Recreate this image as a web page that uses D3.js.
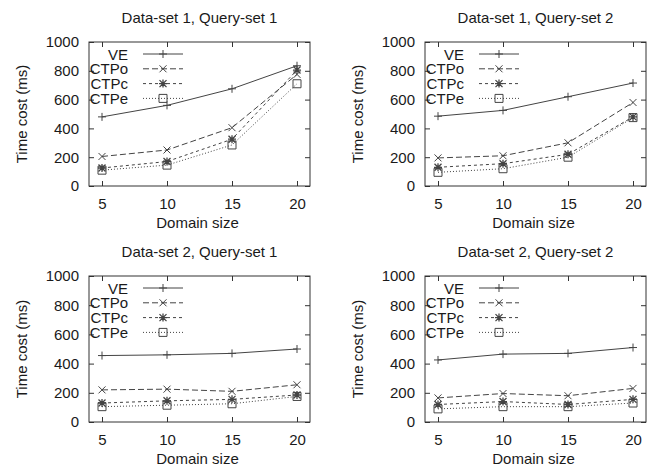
<!DOCTYPE html>
<html>
<head>
<meta charset="utf-8">
<script src="https://cdn.jsdelivr.net/npm/d3@7"></script>
<style>
  body { margin: 0; background: #fff; }
  svg { display: block; }
  text { font-family: "Liberation Sans", Arial, sans-serif; fill: #1a1a1a; }
</style>
</head>
<body>
<div id="chart"></div>
<script>
// data
var domainSizes = [5, 10, 15, 20];
var seriesNames = ["VE", "CTPo", "CTPc", "CTPe"];
var yTicks = [0, 200, 400, 600, 800, 1000];
var panelTitles = ["Data-set 1, Query-set 1", "Data-set 1, Query-set 2",
                   "Data-set 2, Query-set 1", "Data-set 2, Query-set 2"];

// one row per series, in seriesNames order
var ds1qs1 = [[480, 560, 675, 835], [205, 250, 405, 775], [125, 170, 325, 805], [110, 145, 285, 710]];
var ds1qs2 = [[485, 525, 620, 715], [195, 210, 300, 580], [130, 155, 220, 480], [95, 120, 200, 475]];
var ds2qs1 = [[455, 460, 470, 500], [220, 225, 210, 255], [130, 145, 155, 185], [105, 115, 125, 175]];
var ds2qs2 = [[425, 465, 470, 510], [165, 195, 180, 230], [120, 140, 120, 155], [90, 105, 105, 130]];
var panelData = [ds1qs1, ds1qs2, ds2qs1, ds2qs2];

var W = 659, H = 466;
var fs = "15px";
var svg = d3.select("#chart").append("svg").attr("width", W).attr("height", H);

// plot boxes (left, top, right, bottom)
var boxes = [
  [89, 42, 310, 186],
  [425, 42, 646, 186],
  [89, 276, 310, 422],
  [425, 276, 646, 422]
];

var lineCol = "#444";
var dashes = ["none", "6,3", "3,3", "1,2"];

function marker(g, kind, x, y) {
  var s = 4;
  var p = "";
  if (kind == 0 || kind == 2) p += "M" + (x - s) + "," + y + "H" + (x + s) + "M" + x + "," + (y - s) + "V" + (y + s);
  if (kind == 1 || kind == 2) p += "M" + (x - 3.5) + "," + (y - 3.5) + "L" + (x + 3.5) + "," + (y + 3.5) +
                                   "M" + (x - 3.5) + "," + (y + 3.5) + "L" + (x + 3.5) + "," + (y - 3.5);
  if (kind == 3) p = "M" + (x - 4) + "," + (y - 4) + "h8v8h-8z";
  g.append("path").attr("d", p).attr("fill", "none")
    .attr("stroke", lineCol).attr("stroke-width", kind == 2 ? 1.3 : 1);
}

panelData.forEach(function(data, pi) {
  var b = boxes[pi];
  var x = d3.scaleLinear().domain([4, 21]).range([b[0], b[2]]);
  var y = d3.scaleLinear().domain([0, 1000]).range([b[3], b[1]]);
  var g = svg.append("g");

  // inward ticks on all four sides
  var axB = g.append("g").attr("transform", "translate(0," + b[3] + ")")
    .call(d3.axisBottom(x).tickValues(domainSizes).tickSize(-5).tickPadding(12));
  var axT = g.append("g").attr("transform", "translate(0," + b[1] + ")")
    .call(d3.axisTop(x).tickValues(domainSizes).tickSize(-5).tickFormat(""));
  var axL = g.append("g").attr("transform", "translate(" + b[0] + ",0)")
    .call(d3.axisLeft(y).tickValues(yTicks).tickSize(-5).tickPadding(10).tickFormat(d3.format("d")));
  var axR = g.append("g").attr("transform", "translate(" + b[2] + ",0)")
    .call(d3.axisRight(y).tickValues(yTicks).tickSize(-5).tickFormat(""));
  [axB, axT, axL, axR].forEach(function(a) {
    a.select(".domain").remove();
    a.selectAll("line").attr("stroke", "#333");
    a.selectAll("text").attr("font-size", fs).attr("fill", "#1a1a1a")
      .attr("font-family", "Liberation Sans, Arial, sans-serif");
  });

  g.append("rect").attr("x", b[0]).attr("y", b[1])
    .attr("width", b[2] - b[0]).attr("height", b[3] - b[1])
    .attr("fill", "none").attr("stroke", "#333").attr("stroke-width", 1);

  // title and axis labels
  g.append("text").attr("x", (b[0] + b[2]) / 2).attr("y", b[1] - 19)
    .attr("text-anchor", "middle").attr("font-size", fs).text(panelTitles[pi]);
  g.append("text").attr("x", (b[0] + b[2]) / 2 - 2).attr("y", b[3] + 42)
    .attr("text-anchor", "middle").attr("font-size", fs).text("Domain size");
  g.append("text").attr("transform", "translate(" + (b[0] - 62) + "," + ((b[1] + b[3]) / 2) + ") rotate(-90)")
    .attr("text-anchor", "middle").attr("font-size", fs).text("Time cost (ms)");

  // series
  var line = d3.line().x(function(d, i) { return x(domainSizes[i]); }).y(function(d) { return y(d); });
  data.forEach(function(vals, si) {
    g.append("path").attr("d", line(vals)).attr("fill", "none")
      .attr("stroke", lineCol).attr("stroke-width", 1)
      .attr("stroke-dasharray", dashes[si]);
    vals.forEach(function(v, i) { marker(g, si, x(domainSizes[i]), y(v)); });
  });

  // legend
  seriesNames.forEach(function(name, si) {
    var ly = b[1] + 12 + si * 14.8;
    g.append("text").attr("x", b[0] + 39).attr("y", ly + 5.5)
      .attr("text-anchor", "end").attr("font-size", fs).text(name);
    g.append("line").attr("x1", b[0] + 54).attr("x2", b[0] + 94)
      .attr("y1", ly).attr("y2", ly)
      .attr("stroke", lineCol).attr("stroke-width", 1).attr("stroke-dasharray", dashes[si]);
    marker(g, si, b[0] + 74, ly);
  });
});
</script>
</body>
</html>
